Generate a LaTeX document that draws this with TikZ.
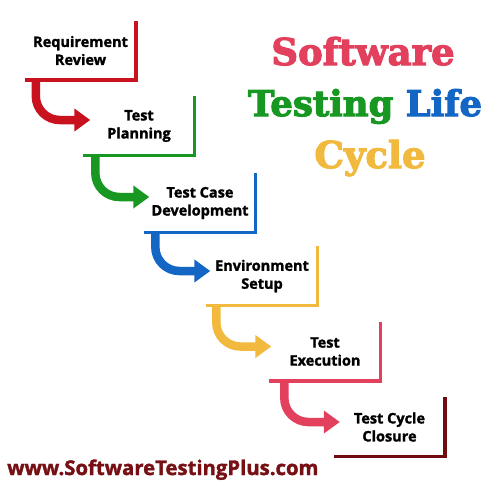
\documentclass[tikz,border=0pt]{standalone}
\usepackage{fontspec}
\setmainfont{Open Sans}[BoldFeatures={FakeBold=1.6}]
\newfontfamily\titlefont{DejaVu Serif}[BoldFeatures={FakeBold=3}]
\usetikzlibrary{arrows.meta, positioning}

\definecolor{stepred}{RGB}{200,18,30}
\definecolor{stepgreen}{RGB}{24,152,34}
\definecolor{stepblue}{RGB}{20,102,196}
\definecolor{stepyellow}{RGB}{241,186,62}
\definecolor{steppink}{RGB}{226,64,92}
\definecolor{stepmaroon}{RGB}{112,12,16}
\definecolor{urlred}{RGB}{118,16,20}

\tikzset{
  stepbox/.style={minimum width=111pt, minimum height=59pt, inner sep=0pt, align=center,
    font=\bfseries\fontsize{14.5}{18}\selectfont},
  stair/.style={line width=3.5pt},
  flow/.style={line width=8.5pt, rounded corners=24pt, -{Triangle[length=16pt,width=22pt]}},
  title/.style={font=\titlefont\bfseries\fontsize{37}{40}\selectfont, anchor=base, inner sep=0pt}
}

\begin{document}
\begin{tikzpicture}[x=1pt,y=-1pt]
\useasboundingbox[fill=white] (0,0) rectangle (502,491);

% Steps
\node[stepbox] (req) at (80.5,50.5) {Requirement\\Review};
\node[stepbox] (plan) at (139,126) {Test\\Planning};
\node[stepbox] (dev) at (200,203) {Test Case\\Development};
\node[stepbox] (env) at (262,276) {Environment\\Setup};
\node[stepbox] (exec) at (325,351.5) {Test\\Execution};
\node[stepbox] (close) at (389.5,427) {Test Cycle\\Closure};

% Stairs
\draw[stair, stepred] (req.north east) -- (req.south east) -- (req.south west);
\draw[stair, stepgreen] (plan.north east) -- (plan.south east) -- (plan.south west);
\draw[stair, stepblue] (dev.north east) -- (dev.south east) -- (dev.south west);
\draw[stair, stepyellow] (env.north east) -- (env.south east) -- (env.south west);
\draw[stair, steppink] (exec.north east) -- (exec.south east) -- (exec.south west);
\draw[stair, stepmaroon] (close.north east) -- (close.south east) -- (close.south west);

% Arrows
\draw[flow, stepred] ([xshift=11pt]req.south west) |- ([xshift=7pt,yshift=6pt]plan.west);
\draw[flow, stepgreen] ([xshift=12pt]plan.south west) |- ([xshift=5pt,yshift=6pt]dev.west);
\draw[flow, stepblue] ([xshift=11pt]dev.south west) |- ([xshift=4pt,yshift=5pt]env.west);
\draw[flow, stepyellow] ([xshift=10pt]env.south west) |- ([xshift=2pt,yshift=5pt]exec.west);
\draw[flow, steppink] ([xshift=15pt]exec.south west) |- ([xshift=6pt,yshift=5pt]close.west);

% Title
\node[title, text=steppink] (tsoft) at (363,65) {Software};
\node[title, font=\titlefont\bfseries\fontsize{35.5}{40}\selectfont] (ttest) at (365,116) {\textcolor{stepgreen}{Testing} \textcolor{stepblue}{Life}};
\node[title, text=stepyellow] (tcycle) at (370,168) {Cycle};

% Website
\node[anchor=base west, inner sep=0pt, text=urlred, font=\bfseries\fontsize{20.3}{22}\selectfont] (url) at (7,475) {www.SoftwareTestingPlus.com};
\end{tikzpicture}
\end{document}
